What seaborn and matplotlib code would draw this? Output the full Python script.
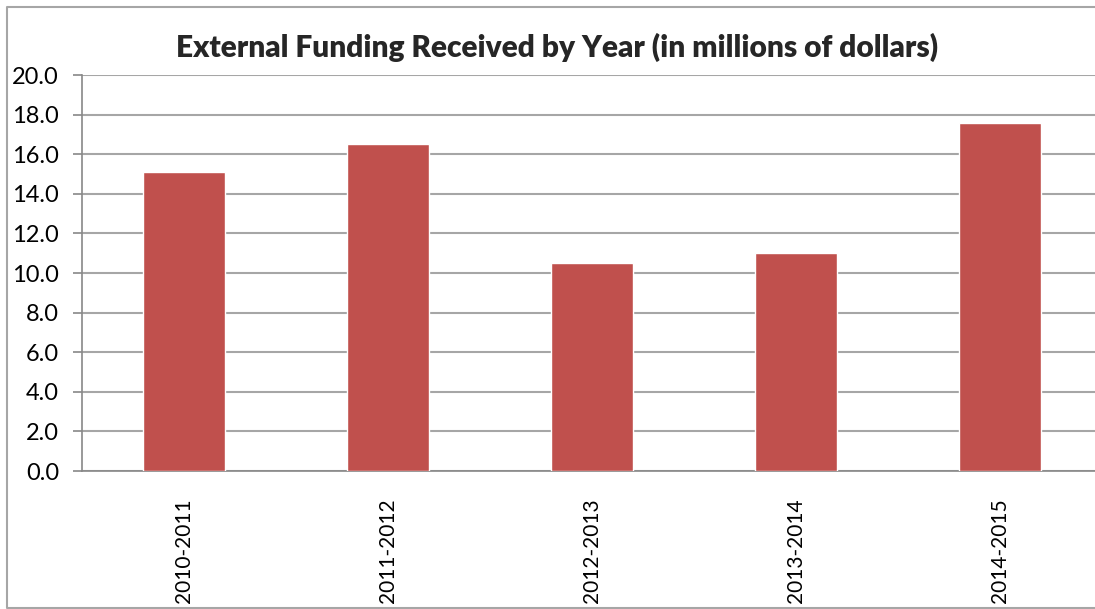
import matplotlib
matplotlib.use("Agg")
import matplotlib.pyplot as plt
from matplotlib.lines import Line2D
from matplotlib.ticker import FixedLocator
import seaborn as sns
import pandas as pd

# values (millions of dollars)
years = ['2010-2011', '2011-2012', '2012-2013', '2013-2014', '2014-2015']
funding = [15.1, 16.5, 10.5, 11.0, 17.6]
y_ticks = [0, 2, 4, 6, 8, 10, 12, 14, 16, 18, 20]

df = pd.DataFrame({'Year': years, 'Funding': funding})

sns.set_style('white')
plt.rcParams['font.family'] = ['Lato', 'DejaVu Sans']

W, H = 1095, 609
fig = plt.figure(figsize=(W / 100, H / 100), dpi=100)
fig.patch.set_facecolor('white')

# outer chart frame: open on the right, runs off the edge like the reference
top, bottom, left = 1 - 7 / H, 1 / H, 7 / W
fig.lines.append(Line2D([1.1, left, left, 1.1], [top, top, bottom, bottom],
                        transform=fig.transFigure, color='#a6a6a6', linewidth=1.5, zorder=0))

ax = fig.add_axes([82 / W, (H - 471) / H, 1020 / W, 396 / H])
sns.barplot(x='Year', y='Funding', data=df, color='#c0504d', width=0.4,
            saturation=1, ax=ax, zorder=3)

ax.set_xlim(-0.5, 4.5)
ax.set_ylim(0, 20)
ax.set_yticks(y_ticks)
ax.set_yticklabels([f'{v:.1f}' for v in y_ticks], fontsize=17, color='black')
ax.yaxis.grid(True, color='#a6a6a6', linewidth=1.5, zorder=0)
ax.set_axisbelow(True)

ax.set_xticks(range(len(years)))
ax.set_xticklabels(years, rotation=90, fontsize=15, color='black')
ax.xaxis.set_minor_locator(FixedLocator([i - 0.5 for i in range(len(years) + 1)]))
ax.tick_params(axis='x', which='major', length=0, pad=20)
ax.tick_params(axis='x', which='minor', length=6, width=1.2, color='#888888', direction='out')
ax.tick_params(axis='y', length=6.5, width=1.2, color='#888888', direction='out', pad=10, left=True)

for side in ['top', 'right']:
    ax.spines[side].set_visible(False)
for side in ['left', 'bottom']:
    ax.spines[side].set_color('#888888')
    ax.spines[side].set_linewidth(1.2)

ax.set_xlabel('')
ax.set_ylabel('')

fig.text(557 / W, 1 - 47 / H, 'External Funding Received by Year (in millions of dollars)',
         ha='center', va='center', fontsize=21.5, fontweight='heavy')

fig.savefig('out.png', dpi=100)
